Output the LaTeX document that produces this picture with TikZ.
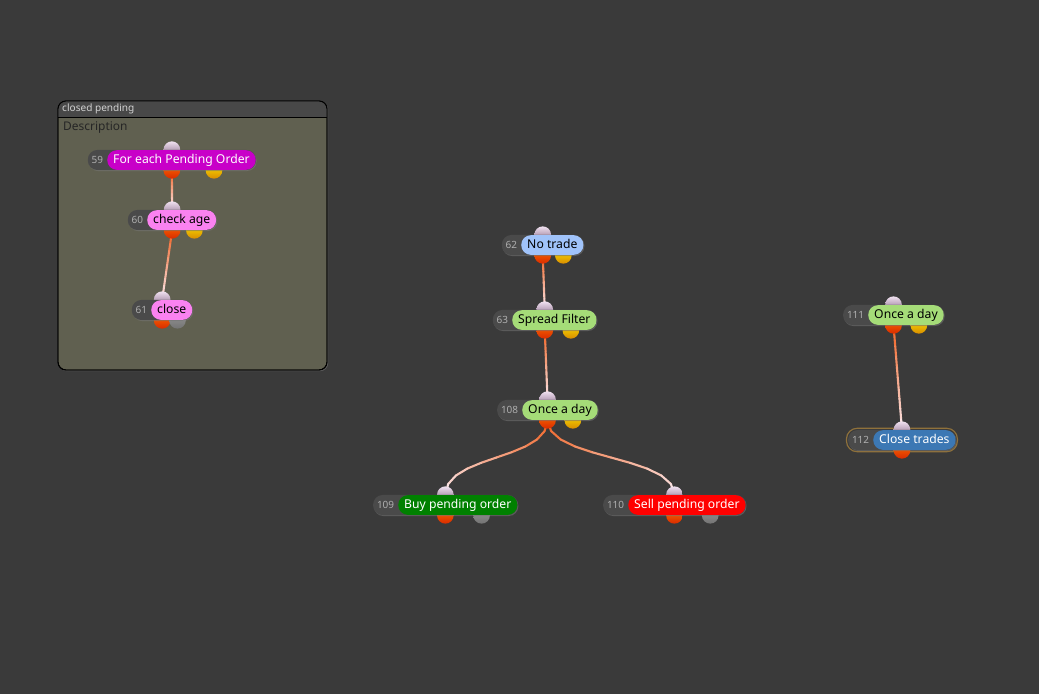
\documentclass[tikz,border=0pt]{standalone}
\usepackage{fontspec}
\setmainfont{Noto Sans}
\usetikzlibrary{positioning,fit,calc,shadows}

\definecolor{canvas}{RGB}{58,58,58}
\definecolor{groupfill}{RGB}{96,96,80}
\definecolor{grouphead}{RGB}{72,72,72}
\definecolor{pilldark}{RGB}{74,74,74}
\definecolor{idgrey}{RGB}{175,175,175}
\definecolor{wireorange}{RGB}{240,95,30}
\definecolor{wirewhite}{RGB}{250,232,235}
\definecolor{magentalbl}{RGB}{200,0,200}
\definecolor{pinklbl}{RGB}{250,130,240}
\definecolor{bluelbl}{RGB}{160,195,250}
\definecolor{greenlbl}{RGB}{165,220,120}
\definecolor{buylbl}{RGB}{0,128,0}
\definecolor{selllbl}{RGB}{255,0,0}
\definecolor{tradelbl}{RGB}{60,120,180}
\definecolor{glowline}{RGB}{200,150,60}

\pgfdeclarelayer{boxlayer}
\pgfdeclarelayer{wirelayer}
\pgfdeclarelayer{dotlayer}
\pgfdeclarelayer{pilllayer}
\pgfsetlayers{boxlayer,wirelayer,dotlayer,pilllayer,main}

%one flow node: name, label position, id, text, fill, text colour, second output
\newcommand{\flownode}[7]{%
 \node[labelpill, fill=#5, text=#6, anchor=west] (l#1) at (#2) {#4};
 \node[idtext, left=0pt of l#1] (id#1) {#3};
 \begin{pgfonlayer}{pilllayer}
 \node[idpill, fit=(id#1)(l#1)] (n#1) {};
 \end{pgfonlayer}
 \begin{pgfonlayer}{dotlayer}
 \node[indot] (in#1) at (n#1.north) {};
 \node[outdot] (out#1) at (n#1.south) {};
 \node[#7] (alt#1) at ($(n#1.south west)!.75!(n#1.south east)$) {};
 \end{pgfonlayer}}

%one wire from an output dot to an input dot, orange fading to white
\newcommand{\wire}[3]{%
 \begin{pgfonlayer}{wirelayer}
 \path (out#1.center) #3 (in#2.center)
   foreach \k [evaluate=\k as \t using \k/10] in {0,...,10} {coordinate[pos=\t] (w\k)};
 \foreach \k [remember=\k as \j (initially 0), evaluate=\k as \m using int(105-\k*10)] in {1,...,10}
   {\draw[wireline, draw=wireorange!\m!wirewhite] (w\j) -- (w\k);}
 \end{pgfonlayer}}

\begin{document}
\begin{tikzpicture}[x=0.03cm, y=-0.03cm,
 labelpill/.style ={rounded corners=.29cm, minimum height=.59cm, inner xsep=.18cm, inner ysep=0pt,
   text height=1.6ex, text depth=.4ex, font=\fontsize{10.4}{12}\selectfont},
 idtext/.style ={text=idgrey, minimum height=.59cm, inner xsep=.11cm, inner ysep=0pt,
   font=\fontsize{8.5}{10}\selectfont},
 idpill/.style ={fill=pilldark, rounded corners=.29cm, inner sep=0pt,
   drop shadow={opacity=.5, shadow xshift=.6pt, shadow yshift=-.8pt}},
 indot/.style ={circle, inner sep=0pt, minimum size=.5cm, top color=white!88!violet, bottom color=violet!25!gray},
 outdot/.style ={circle, inner sep=0pt, minimum size=.5cm, top color=orange!90!red, bottom color=red!60!orange!85!black},
 yellowdot/.style ={circle, inner sep=0pt, minimum size=.5cm, top color=yellow!85!orange, bottom color=orange!70!yellow!85!black},
 greydot/.style ={circle, inner sep=0pt, minimum size=.5cm, top color=gray!80, bottom color=gray!90!black},
 wireline/.style ={line width=1.8pt, line cap=round},
 groupbox/.style ={fill=groupfill, draw=black, line width=.8pt, rounded corners=.24cm,
   drop shadow={opacity=.5, shadow xshift=1pt, shadow yshift=-1pt}}
 ]
%draw canvas and group frame
\begin{pgfonlayer}{boxlayer}
\fill[canvas] (0,0) rectangle (1039,694);
\path[groupbox] (58,101) rectangle (327,370);
\begin{scope}
\clip[rounded corners=.24cm] (58,101) rectangle (327,370);
\fill[grouphead] (58,101) rectangle (327,117);
\end{scope}
\draw[black, line width=.8pt] (58,117) -- (327,117);
\draw[black, line width=.8pt, rounded corners=.24cm] (58,101) rectangle (327,370);
\node[anchor=west, inner sep=0pt, text=white!82!black, font=\fontsize{8.6}{10}\selectfont] (grouptitle) at (62,109) {closed pending};
\node[anchor=west, inner sep=0pt, text=black!85, font=\fontsize{10.2}{12}\selectfont] (groupdesc) at (63,128) {Description};
\end{pgfonlayer}

%draw nodes inside the group
\flownode{59}{107,160}{59}{For each Pending Order}{magentalbl}{white}{yellowdot}
\flownode{60}{147,220}{60}{check age}{pinklbl}{black}{yellowdot}
\flownode{61}{151,310}{61}{close}{pinklbl}{black}{greydot}

%draw middle chain
\flownode{62}{521,245}{62}{No trade}{bluelbl}{black}{yellowdot}
\flownode{63}{512,320}{63}{Spread Filter}{greenlbl}{black}{yellowdot}
\flownode{108}{522,410}{108}{Once a day}{greenlbl}{black}{yellowdot}
\flownode{109}{398,505}{109}{Buy pending order}{buylbl}{white}{greydot}
\flownode{110}{628,505}{110}{Sell pending order}{selllbl}{white}{greydot}

%draw right chain
\flownode{111}{868,315}{111}{Once a day}{greenlbl}{black}{yellowdot}
\flownode{112}{873,440}{112}{Close trades}{tradelbl}{white}{coordinate}
\begin{pgfonlayer}{wirelayer}
\node[draw=glowline, line width=1pt, opacity=.6, rounded corners=.32cm, inner sep=1.2pt, fit=(n112)] (glow112) {};
\end{pgfonlayer}

%draw wires
\wire{59}{60}{--}
\wire{60}{61}{--}
\wire{62}{63}{--}
\wire{63}{108}{--}
\wire{108}{109}{.. controls +(0,40) and +(0,-40) ..}
\wire{108}{110}{.. controls +(0,40) and +(0,-40) ..}
\wire{111}{112}{--}
\end{tikzpicture}
\end{document}
